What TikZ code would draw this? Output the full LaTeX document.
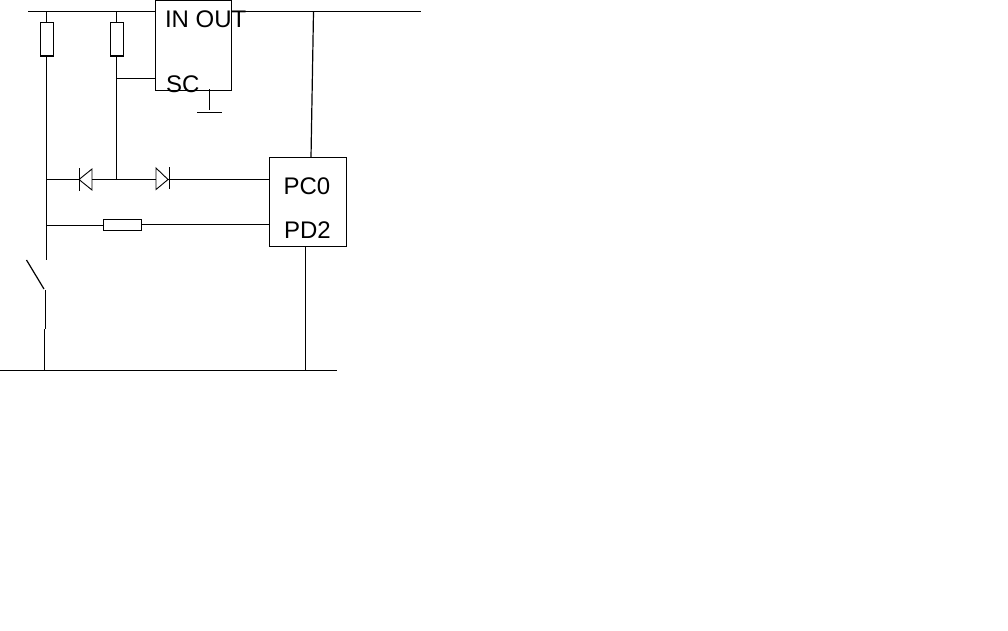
\documentclass[tikz,border=0pt]{standalone}
\usepackage{fontspec}
\setmainfont{Liberation Sans}
\tikzset{
  wire/.style={line width=1.2pt,black},
  thinwire/.style={line width=0.9pt,black},
  partbox/.style={draw,line width=1.2pt,rectangle,inner sep=0pt,outer sep=0pt,fill=none},
  pinlabel/.style={anchor=base west,inner sep=0pt,outer sep=0pt,font=\fontsize{24pt}{25pt}\selectfont,text=black},
}
\begin{document}
\begin{tikzpicture}[x=1pt,y=-1pt]
\useasboundingbox (0,0) rectangle (1008,630);
% parts
\node[partbox,minimum width=13,minimum height=33.5] (r1) at (47,39.25) {};
\node[partbox,minimum width=13,minimum height=33.5] (r2) at (117,39.25) {};
\node[partbox,minimum width=76,minimum height=90] (reg) at (193.5,45.5) {};
\node[partbox,minimum width=77,minimum height=89] (mcu) at (308,202) {};
\node[partbox,minimum width=38,minimum height=11] (r3) at (122.5,225) {};
% labels
\node[pinlabel] (lio) at (165,27.7) {IN OUT};
\node[pinlabel] (lsc) at (166,92) {SC};
\node[pinlabel] (lpc) at (283.5,194.5) {PC0};
\node[pinlabel] (lpd) at (284,238) {PD2};
% points
\coordinate (tl) at (28,11.5);
\coordinate (t1) at (46.5,11.5);
\coordinate (t2) at (116.5,11.5);
\coordinate (tin) at (155.5,11.5);
\coordinate (tout) at (231.5,11.5);
\coordinate (t3) at (313.5,11.5);
\coordinate (tr) at (421,11.5);
\coordinate (r1b) at (46.5,56);
\coordinate (r1t) at (46.5,22.5);
\coordinate (r2b) at (116.5,56);
\coordinate (r2t) at (116.5,22.5);
\coordinate (sc) at (116.5,78.5);
\coordinate (scp) at (155.5,78.5);
\coordinate (j1) at (46.5,179.5);
\coordinate (j2) at (116.5,179.5);
\coordinate (j3) at (46.5,225.5);
\coordinate (sw1) at (46.5,259.5);
\coordinate (swa) at (26.5,260);
\coordinate (swb) at (44,289);
\coordinate (sw2) at (45.5,290);
\coordinate (sw3) at (45.5,329);
\coordinate (sw4) at (44.5,329);
\coordinate (b1) at (44.5,370.5);
\coordinate (bl) at (0,370.5);
\coordinate (br) at (337,370.5);
\coordinate (b2) at (305.5,370.5);
\coordinate (mb) at (305.5,246.5);
\coordinate (mt) at (311,157.5);
\coordinate (gt) at (209.5,89);
\coordinate (gb) at (209.5,110);
\coordinate (gl) at (197,112.5);
\coordinate (gr) at (221.5,112.5);
\coordinate (mpc) at (269.5,179.5);
\coordinate (r3l) at (103.5,225.5);
\coordinate (r3r) at (141.5,224.5);
\coordinate (mpd) at (269.5,224.5);
% diode left
\coordinate (d1a) at (79,179.5);
\coordinate (d1b) at (92,179.5);
\coordinate (d1c) at (92,169);
\coordinate (d1d) at (92,190);
\coordinate (d1e) at (79,168);
\coordinate (d1f) at (79,191);
% diode right
\coordinate (d2a) at (168,179.5);
\coordinate (d2b) at (156,179.5);
\coordinate (d2c) at (156,168);
\coordinate (d2d) at (156,189.5);
\coordinate (d2e) at (169,167);
\coordinate (d2f) at (169,189);
% rails
\draw[wire] (tl) -- (tin);
\draw[wire] (tout) -- (tr);
\draw[wire] (bl) -- (br);
% verticals
\draw[wire] (t1) -- (r1t);
\draw[wire] (t2) -- (r2t);
\draw[wire] (r1b) -- (sw1);
\draw[wire] (r2b) -- (j2);
\draw[wire] (sc) -- (scp);
\draw[wire] (t3) -- (mt);
\draw[wire] (mb) -- (b2);
% ground
\draw[wire] (gt) -- (gb);
\draw[wire] (gl) -- (gr);
% diode line
\draw[wire] (j1) -- (d1a);
\draw[wire] (d1b) -- (d2b);
\draw[wire] (d2a) -- (mpc);
\draw[thinwire] (d1a) -- (d1c) -- (d1d) -- cycle;
\draw[thinwire] (d1e) -- (d1f);
\draw[thinwire] (d2a) -- (d2c) -- (d2d) -- cycle;
\draw[thinwire] (d2e) -- (d2f);
% resistor line
\draw[wire] (j3) -- (r3l);
\draw[wire] (r3r) -- (mpd);
% switch
\draw[wire] (swa) -- (swb);
\draw[wire] (sw2) -- (sw3);
\draw[wire] (sw4) -- (b1);
\end{tikzpicture}
\end{document}
